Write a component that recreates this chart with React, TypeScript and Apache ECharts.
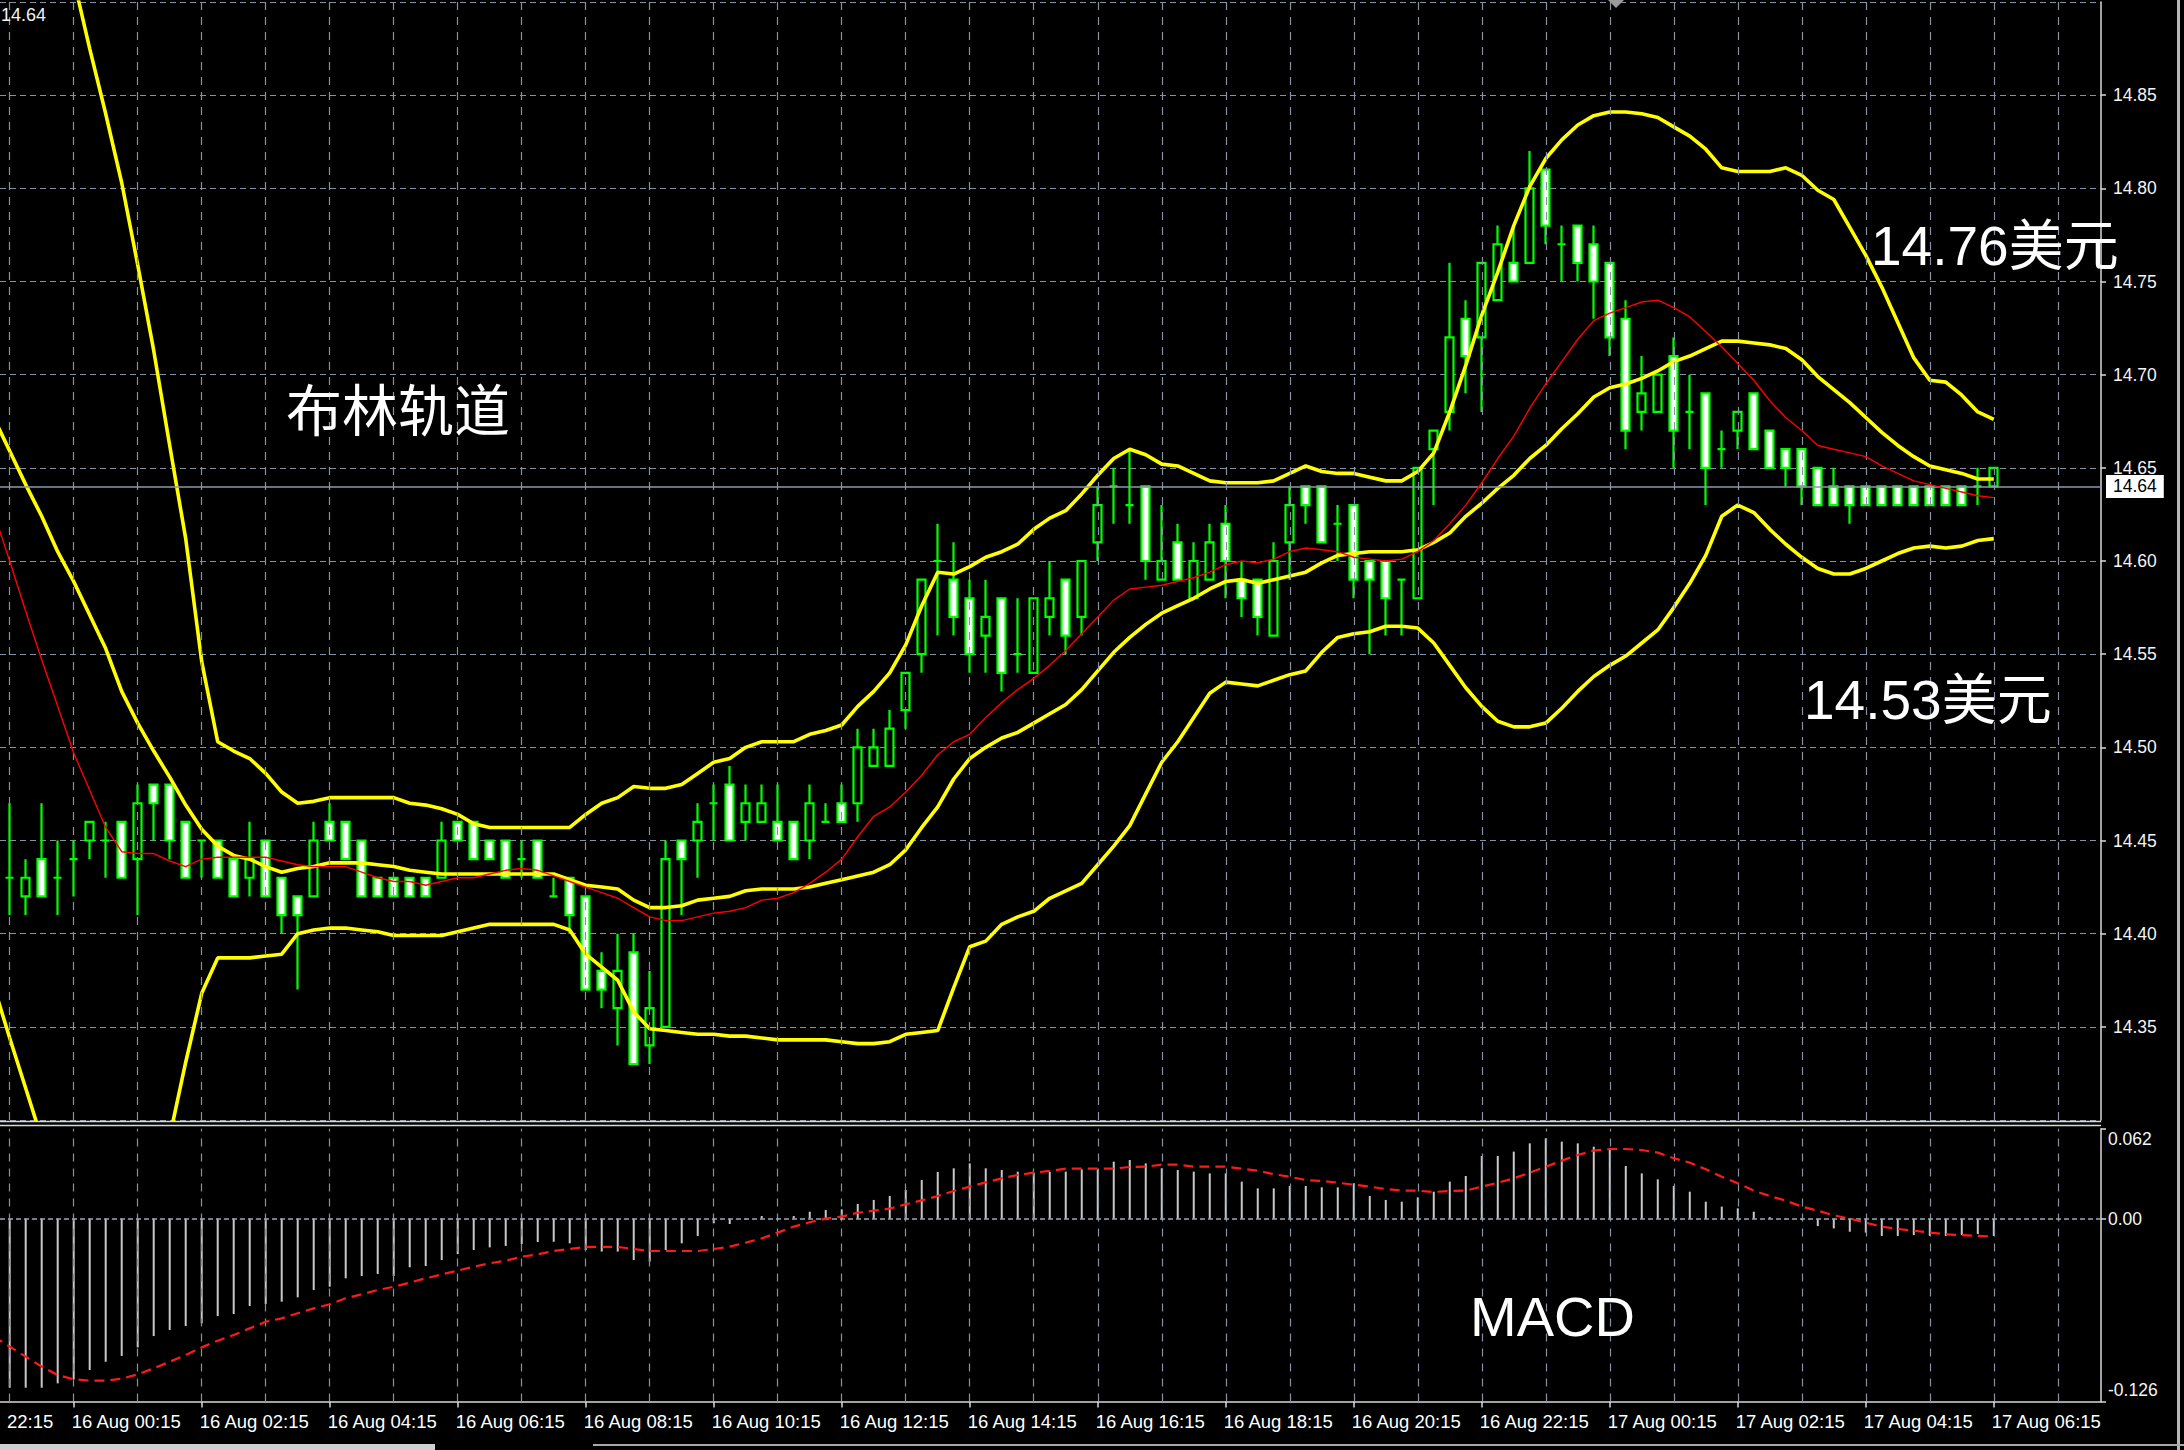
import React, { useEffect, useRef } from 'react';
import * as echarts from 'echarts';

const W = 2184;
const H = 1450;

// Bars are counted in 15-minute steps from 16 Aug 00:15 (k = 0).
const FIRST_CANDLE = -4;
const FIRST_LINE = -5;

// [open, close, low, high] per bar, from k = -4 (15 Aug 23:15) to k = 120 (17 Aug 06:15)
const candles: number[][] = [
  [14.43, 14.43, 14.41, 14.47], [14.42, 14.43, 14.41, 14.44], [14.44, 14.42, 14.42, 14.47], [14.43, 14.43, 14.41, 14.45],
  [14.44, 14.44, 14.42, 14.45], [14.45, 14.46, 14.44, 14.46], [14.45, 14.45, 14.43, 14.46], [14.46, 14.43, 14.43, 14.46],
  [14.44, 14.47, 14.41, 14.48], [14.48, 14.47, 14.45, 14.48], [14.48, 14.45, 14.44, 14.48], [14.46, 14.43, 14.43, 14.46],
  [14.45, 14.45, 14.43, 14.45], [14.45, 14.43, 14.43, 14.45], [14.44, 14.42, 14.42, 14.44], [14.43, 14.44, 14.42, 14.46],
  [14.45, 14.42, 14.42, 14.45], [14.43, 14.41, 14.40, 14.43], [14.42, 14.41, 14.37, 14.42], [14.42, 14.45, 14.42, 14.46],
  [14.46, 14.45, 14.45, 14.47], [14.46, 14.44, 14.44, 14.46], [14.45, 14.42, 14.42, 14.45], [14.43, 14.42, 14.42, 14.43],
  [14.43, 14.42, 14.42, 14.43], [14.43, 14.42, 14.42, 14.43], [14.43, 14.42, 14.42, 14.43], [14.43, 14.45, 14.43, 14.46],
  [14.46, 14.45, 14.45, 14.46], [14.46, 14.44, 14.44, 14.46], [14.45, 14.44, 14.44, 14.45], [14.45, 14.43, 14.43, 14.45],
  [14.44, 14.44, 14.43, 14.45], [14.45, 14.43, 14.43, 14.45], [14.42, 14.42, 14.42, 14.43], [14.43, 14.41, 14.40, 14.43],
  [14.42, 14.37, 14.37, 14.42], [14.38, 14.37, 14.36, 14.39], [14.36, 14.38, 14.34, 14.40], [14.39, 14.33, 14.33, 14.40],
  [14.34, 14.36, 14.33, 14.38], [14.35, 14.44, 14.35, 14.45], [14.45, 14.44, 14.41, 14.45], [14.45, 14.46, 14.43, 14.47],
  [14.47, 14.47, 14.45, 14.48], [14.48, 14.45, 14.45, 14.49], [14.46, 14.47, 14.45, 14.48], [14.46, 14.47, 14.46, 14.48],
  [14.46, 14.45, 14.45, 14.48], [14.46, 14.44, 14.44, 14.46], [14.45, 14.47, 14.44, 14.48], [14.46, 14.46, 14.46, 14.47],
  [14.47, 14.46, 14.46, 14.48], [14.47, 14.50, 14.46, 14.51], [14.49, 14.50, 14.49, 14.51], [14.49, 14.51, 14.49, 14.52],
  [14.52, 14.54, 14.51, 14.54], [14.55, 14.59, 14.54, 14.59], [14.60, 14.60, 14.56, 14.62], [14.59, 14.57, 14.56, 14.61],
  [14.58, 14.55, 14.54, 14.59], [14.56, 14.57, 14.54, 14.59], [14.58, 14.54, 14.53, 14.58], [14.55, 14.55, 14.54, 14.58],
  [14.54, 14.58, 14.54, 14.58], [14.57, 14.58, 14.56, 14.60], [14.59, 14.56, 14.55, 14.59], [14.57, 14.60, 14.56, 14.60],
  [14.61, 14.63, 14.60, 14.64], [14.64, 14.64, 14.62, 14.65], [14.63, 14.63, 14.62, 14.66], [14.64, 14.60, 14.59, 14.64],
  [14.59, 14.60, 14.59, 14.63], [14.61, 14.59, 14.59, 14.62], [14.58, 14.60, 14.58, 14.61], [14.59, 14.61, 14.59, 14.62],
  [14.62, 14.60, 14.58, 14.63], [14.59, 14.58, 14.57, 14.60], [14.59, 14.57, 14.56, 14.59], [14.56, 14.60, 14.56, 14.61],
  [14.61, 14.63, 14.59, 14.64], [14.64, 14.63, 14.62, 14.64], [14.64, 14.61, 14.61, 14.64], [14.62, 14.62, 14.60, 14.63],
  [14.63, 14.59, 14.58, 14.63], [14.60, 14.59, 14.55, 14.60], [14.60, 14.58, 14.56, 14.60], [14.59, 14.59, 14.56, 14.59],
  [14.58, 14.65, 14.58, 14.65], [14.66, 14.67, 14.63, 14.67], [14.68, 14.72, 14.67, 14.76], [14.73, 14.71, 14.69, 14.74],
  [14.72, 14.76, 14.68, 14.76], [14.74, 14.77, 14.74, 14.78], [14.76, 14.75, 14.75, 14.78], [14.76, 14.80, 14.76, 14.82],
  [14.81, 14.78, 14.77, 14.81], [14.77, 14.77, 14.75, 14.78], [14.78, 14.76, 14.75, 14.78], [14.77, 14.75, 14.73, 14.78],
  [14.76, 14.72, 14.71, 14.76], [14.73, 14.67, 14.66, 14.74], [14.68, 14.69, 14.67, 14.71], [14.68, 14.70, 14.68, 14.70],
  [14.71, 14.67, 14.65, 14.72], [14.68, 14.68, 14.66, 14.70], [14.69, 14.65, 14.63, 14.69], [14.66, 14.66, 14.65, 14.67],
  [14.67, 14.68, 14.66, 14.68], [14.69, 14.66, 14.66, 14.69], [14.67, 14.65, 14.65, 14.67], [14.66, 14.65, 14.64, 14.66],
  [14.66, 14.64, 14.63, 14.66], [14.65, 14.63, 14.63, 14.65], [14.64, 14.63, 14.63, 14.65], [14.64, 14.63, 14.62, 14.64],
  [14.64, 14.63, 14.63, 14.64], [14.64, 14.63, 14.63, 14.64], [14.64, 14.63, 14.63, 14.64], [14.64, 14.63, 14.63, 14.64],
  [14.64, 14.63, 14.63, 14.64], [14.64, 14.63, 14.63, 14.64], [14.64, 14.63, 14.63, 14.64], [14.64, 14.64, 14.63, 14.65],
  [14.64, 14.65, 14.64, 14.65],
];

// Bollinger bands and the red moving average, from k = -5 to k = 120
const bbUpper: number[] = [
  14.980, 14.974, 14.965, 14.958, 14.935, 14.912, 14.875, 14.840, 14.803, 14.759, 14.713, 14.662, 14.612, 14.546,
  14.503, 14.498, 14.494, 14.486, 14.476, 14.470, 14.471, 14.473, 14.473, 14.473, 14.473, 14.473, 14.470, 14.469,
  14.467, 14.464, 14.459, 14.457, 14.457, 14.457, 14.457, 14.457, 14.457, 14.464, 14.470, 14.473, 14.479, 14.478,
  14.478, 14.480, 14.486, 14.492, 14.494, 14.500, 14.503, 14.503, 14.503, 14.507, 14.509, 14.512, 14.522, 14.530,
  14.540, 14.555, 14.576, 14.594, 14.593, 14.597, 14.602, 14.605, 14.609, 14.617, 14.623, 14.627, 14.636, 14.646,
  14.655, 14.660, 14.657, 14.652, 14.651, 14.647, 14.643, 14.642, 14.642, 14.642, 14.643, 14.647, 14.651, 14.648,
  14.647, 14.647, 14.645, 14.643, 14.643, 14.648, 14.658, 14.680, 14.705, 14.732, 14.755, 14.780, 14.801, 14.816,
  14.826, 14.834, 14.839, 14.841, 14.841, 14.840, 14.838, 14.833, 14.828, 14.821, 14.811, 14.809, 14.809, 14.809,
  14.811, 14.807, 14.799, 14.794, 14.779, 14.764, 14.747, 14.728, 14.709, 14.697, 14.696, 14.689, 14.680, 14.676,
];
const bbMiddle: number[] = [
  14.677, 14.659, 14.641, 14.624, 14.605, 14.589, 14.571, 14.553, 14.530, 14.513, 14.498, 14.484, 14.469, 14.456,
  14.447, 14.442, 14.440, 14.436, 14.433, 14.435, 14.436, 14.438, 14.438, 14.438, 14.437, 14.436, 14.434, 14.433,
  14.432, 14.432, 14.432, 14.432, 14.432, 14.432, 14.432, 14.432, 14.429, 14.426, 14.425, 14.424, 14.418, 14.414,
  14.414, 14.415, 14.418, 14.419, 14.420, 14.423, 14.424, 14.424, 14.424, 14.425, 14.427, 14.429, 14.431, 14.433,
  14.437, 14.445, 14.457, 14.468, 14.483, 14.494, 14.500, 14.505, 14.508, 14.513, 14.518, 14.523, 14.531, 14.541,
  14.551, 14.559, 14.566, 14.572, 14.576, 14.580, 14.585, 14.589, 14.590, 14.588, 14.590, 14.592, 14.594, 14.599,
  14.603, 14.604, 14.605, 14.605, 14.605, 14.606, 14.610, 14.615, 14.624, 14.631, 14.639, 14.646, 14.655, 14.662,
  14.671, 14.679, 14.688, 14.693, 14.695, 14.698, 14.702, 14.707, 14.710, 14.714, 14.718, 14.718, 14.717, 14.716,
  14.714, 14.708, 14.699, 14.692, 14.685, 14.677, 14.669, 14.662, 14.656, 14.651, 14.649, 14.647, 14.644, 14.644,
];
const bbLower: number[] = [
  14.372, 14.344, 14.317, 14.290, 14.275, 14.266, 14.265, 14.265, 14.257, 14.267, 14.280, 14.291, 14.331, 14.368,
  14.387, 14.387, 14.387, 14.388, 14.389, 14.400, 14.402, 14.403, 14.403, 14.402, 14.401, 14.399, 14.399, 14.399,
  14.399, 14.401, 14.403, 14.405, 14.405, 14.405, 14.405, 14.405, 14.402, 14.389, 14.382, 14.375, 14.358, 14.349,
  14.348, 14.347, 14.346, 14.346, 14.345, 14.345, 14.344, 14.343, 14.343, 14.343, 14.343, 14.342, 14.341, 14.341,
  14.342, 14.346, 14.347, 14.348, 14.371, 14.393, 14.396, 14.405, 14.409, 14.412, 14.419, 14.423, 14.427, 14.437,
  14.447, 14.458, 14.475, 14.492, 14.503, 14.516, 14.529, 14.535, 14.534, 14.533, 14.536, 14.539, 14.541, 14.551,
  14.559, 14.561, 14.562, 14.565, 14.565, 14.564, 14.556, 14.544, 14.532, 14.522, 14.514, 14.511, 14.511, 14.513,
  14.521, 14.530, 14.538, 14.544, 14.549, 14.556, 14.563, 14.575, 14.588, 14.603, 14.624, 14.630, 14.626, 14.617,
  14.609, 14.602, 14.596, 14.593, 14.593, 14.596, 14.600, 14.604, 14.607, 14.608, 14.607, 14.608, 14.611, 14.612,
];
const maRed: number[] = [
  14.626, 14.600, 14.573, 14.547, 14.522, 14.497, 14.477, 14.457, 14.444, 14.443, 14.443, 14.439, 14.436, 14.440,
  14.441, 14.441, 14.441, 14.441, 14.439, 14.437, 14.436, 14.436, 14.436, 14.433, 14.430, 14.428, 14.428, 14.426,
  14.428, 14.430, 14.430, 14.432, 14.434, 14.435, 14.434, 14.431, 14.428, 14.425, 14.422, 14.419, 14.414, 14.409,
  14.407, 14.407, 14.409, 14.411, 14.412, 14.414, 14.418, 14.419, 14.422, 14.427, 14.433, 14.440, 14.452, 14.463,
  14.468, 14.476, 14.485, 14.496, 14.503, 14.507, 14.516, 14.524, 14.531, 14.537, 14.544, 14.552, 14.561, 14.570,
  14.579, 14.585, 14.586, 14.587, 14.589, 14.591, 14.594, 14.598, 14.600, 14.599, 14.601, 14.605, 14.607, 14.606,
  14.605, 14.602, 14.601, 14.600, 14.601, 14.605, 14.611, 14.620, 14.630, 14.642, 14.655, 14.667, 14.682, 14.695,
  14.707, 14.719, 14.729, 14.733, 14.736, 14.739, 14.740, 14.736, 14.731, 14.723, 14.715, 14.706, 14.697, 14.686,
  14.677, 14.670, 14.662, 14.660, 14.658, 14.656, 14.651, 14.647, 14.643, 14.641, 14.639, 14.637, 14.635, 14.634,
];

// MACD histogram from k = -4, signal line from k = -5
const macdHist: number[] = [
  -0.1165, -0.1165, -0.1165, -0.1135, -0.1107, -0.1043, -0.0986, -0.0946, -0.0887, -0.0809, -0.0767, -0.0740, -0.0721,
  -0.0671, -0.0657, -0.0602, -0.0588, -0.0572, -0.0542, -0.0492, -0.0469, -0.0411, -0.0395, -0.0381, -0.0395, -0.0335,
  -0.0326, -0.0285, -0.0244, -0.0216, -0.0198, -0.0188, -0.0175, -0.0161, -0.0159, -0.0170, -0.0216, -0.0227, -0.0227,
  -0.0285, -0.0296, -0.0216, -0.0170, -0.0119, -0.0032, -0.0037, -0.0005, 0.0018, 0.0005, 0.0018, 0.0048, 0.0060,
  0.0064, 0.0101, 0.0129, 0.0156, 0.0198, 0.0266, 0.0322, 0.0347, 0.0381, 0.0347, 0.0335, 0.0324, 0.0317, 0.0322,
  0.0324, 0.0340, 0.0340, 0.0393, 0.0404, 0.0381, 0.0347, 0.0335, 0.0324, 0.0312, 0.0312, 0.0255, 0.0209, 0.0209,
  0.0225, 0.0225, 0.0216, 0.0216, 0.0244, 0.0156, 0.0129, 0.0117, 0.0147, 0.0186, 0.0255, 0.0294, 0.0432, 0.0432,
  0.0462, 0.0519, 0.0554, 0.0531, 0.0519, 0.0496, 0.0478, 0.0363, 0.0312, 0.0271, 0.0225, 0.0186, 0.0117, 0.0083,
  0.0071, 0.0048, 0.0010, -0.0005, -0.0010, -0.0051, -0.0067, -0.0090, -0.0096, -0.0119, -0.0119, -0.0113, -0.0119,
  -0.0119, -0.0113, -0.0106, -0.0119,
];
const macdSignal: number[] = [
  -0.0813, -0.0882, -0.0951, -0.1020, -0.1077, -0.1107, -0.1116, -0.1116, -0.1103, -0.1073, -0.1031, -0.0986, -0.0940,
  -0.0887, -0.0841, -0.0802, -0.0756, -0.0710, -0.0687, -0.0652, -0.0618, -0.0590, -0.0549, -0.0521, -0.0492, -0.0469,
  -0.0441, -0.0411, -0.0384, -0.0358, -0.0331, -0.0308, -0.0289, -0.0262, -0.0246, -0.0223, -0.0209, -0.0195, -0.0195,
  -0.0195, -0.0209, -0.0223, -0.0223, -0.0223, -0.0223, -0.0209, -0.0193, -0.0165, -0.0136, -0.0096, -0.0055, -0.0025,
  0.0000, 0.0014, 0.0041, 0.0055, 0.0069, 0.0099, 0.0126, 0.0156, 0.0191, 0.0221, 0.0250, 0.0278, 0.0301, 0.0317,
  0.0329, 0.0345, 0.0345, 0.0345, 0.0345, 0.0356, 0.0358, 0.0372, 0.0372, 0.0358, 0.0358, 0.0358, 0.0345, 0.0331,
  0.0306, 0.0289, 0.0266, 0.0260, 0.0248, 0.0234, 0.0221, 0.0204, 0.0193, 0.0193, 0.0184, 0.0191, 0.0193, 0.0221,
  0.0248, 0.0278, 0.0317, 0.0358, 0.0400, 0.0439, 0.0469, 0.0480, 0.0480, 0.0473, 0.0455, 0.0416, 0.0386, 0.0340,
  0.0289, 0.0244, 0.0193, 0.0156, 0.0124, 0.0083, 0.0055, 0.0023, 0.0000, -0.0028, -0.0055, -0.0071, -0.0083, -0.0096,
  -0.0108, -0.0113, -0.0119, -0.0124,
];

// Time labels every 8 bars, k = 0 .. 120; the 22:15 label before them is cut by the left edge
const LEAD_TIME_LABEL = '22:15';
const timeLabels: string[] = [
  '16 Aug 00:15', '16 Aug 02:15', '16 Aug 04:15', '16 Aug 06:15', '16 Aug 08:15',
  '16 Aug 10:15', '16 Aug 12:15', '16 Aug 14:15', '16 Aug 16:15', '16 Aug 18:15', '16 Aug 20:15',
  '16 Aug 22:15', '17 Aug 00:15', '17 Aug 02:15', '17 Aug 04:15', '17 Aug 06:15',
];
const LABEL_STEP = 8;
const labelBars = timeLabels.map((_, i) => i * LABEL_STEP);
// hourly vertical grid lines
const hourBars: number[] = [];
for (let k = -4; k <= 124; k += 4) hourBars.push(k);

const PRICE_MIN = 14.3;
const PRICE_MAX = 14.9;
const PRICE_STEP = 0.05;
const MACD_MIN = -0.126;
const MACD_MAX = 0.062;
const LAST_PRICE = 14.64;

// visible bar range: left edge .. right price-scale edge
const X_MIN = -4.606;
const X_MAX = 126.7;

const GRID_COLOR = '#8393a3';
const FRAME_COLOR = '#d8d8d8';
const AXIS_FONT = '"Liberation Sans", Arial, sans-serif';
const NOTE_FONT = '"Liberation Sans", "Noto Sans CJK SC", sans-serif';

const notes = [
  { text: '布林轨道', x: 286, y: 411, size: 56 },
  { text: '14.76美元', x: 1871, y: 246, size: 55 },
  { text: '14.53美元', x: 1804, y: 700, size: 55 },
  { text: 'MACD', x: 1470, y: 1316, size: 56 },
];

const pts = (arr: number[], start: number) => arr.map((v, i) => [start + i, v]);

function buildOption(): echarts.EChartsOption {
  const hiddenX = (gridIndex: number, position: 'top' | 'bottom') => ({
    gridIndex, type: 'value', min: X_MIN, max: X_MAX, position,
    axisLine: { show: false, onZero: false }, axisTick: { show: false }, axisLabel: { show: false }, splitLine: { show: false },
  });
  const hourGrid = (xAxisIndex: number, yAxisIndex: number) => ({
    name: 'hours' + xAxisIndex,
    type: 'line',
    xAxisIndex,
    yAxisIndex,
    data: [],
    z: 0,
    silent: true,
    markLine: {
      silent: true,
      symbol: 'none',
      animation: false,
      label: { show: false },
      lineStyle: { color: GRID_COLOR, width: 1.2, type: [8, 7] },
      data: hourBars.map((k) => ({ xAxis: k })),
    },
  });
  const bandLine = (name: string, data: number[]) => ({
    name,
    type: 'line',
    xAxisIndex: 0,
    yAxisIndex: 0,
    data: pts(data, FIRST_LINE),
    showSymbol: false,
    symbol: 'none',
    lineStyle: { color: '#ffff00', width: 3.6 },
    z: 4,
  });

  return {
    animation: false,
    backgroundColor: '#000000',
    grid: [
      { left: 0, right: 83, top: 2, height: 1118 },
      { left: 0, right: 83, top: 1128.7, height: 272.8 },
    ],
    xAxis: [
      hiddenX(0, 'bottom'),
      hiddenX(1, 'top'),
      {
        gridIndex: 1, type: 'value', min: X_MIN, max: X_MAX, position: 'bottom',
        axisLine: { show: true, onZero: false, lineStyle: { color: FRAME_COLOR, width: 1.5 } },
        axisTick: { show: true, length: 6, customValues: labelBars, lineStyle: { color: FRAME_COLOR, width: 1.5 } },
        splitLine: { show: false },
        axisLabel: {
          show: true,
          customValues: labelBars,
          align: 'left',
          margin: 10,
          padding: [0, 0, 0, -2],
          color: '#ffffff',
          fontSize: 18.5,
          fontFamily: AXIS_FONT,
          formatter: (v: number) => {
            const i = Math.round(v / LABEL_STEP);
            return timeLabels[i] ?? '';
          },
        },
      },
    ],
    yAxis: [
      {
        gridIndex: 0, type: 'value', position: 'right', min: PRICE_MIN, max: PRICE_MAX, interval: PRICE_STEP,
        axisLine: { show: true, onZero: false, lineStyle: { color: FRAME_COLOR, width: 1.5 } },
        axisTick: { show: true, length: 5, lineStyle: { color: FRAME_COLOR, width: 1.5 } },
        axisLabel: {
          color: '#f4f4f4', fontSize: 17.5, fontFamily: AXIS_FONT, margin: 12,
          showMinLabel: false, showMaxLabel: false,
          formatter: (v: number) => v.toFixed(2),
        },
        splitLine: { show: true, lineStyle: { color: GRID_COLOR, width: 1.2, type: [6, 4] } },
      },
      {
        gridIndex: 1, type: 'value', position: 'right', min: MACD_MIN, max: MACD_MAX, interval: -MACD_MIN,
        axisLine: { show: true, onZero: false, lineStyle: { color: FRAME_COLOR, width: 1.5 } },
        axisTick: { show: true, length: 5, lineStyle: { color: FRAME_COLOR, width: 1.5 } },
        axisLabel: {
          color: '#f4f4f4', fontSize: 17.5, fontFamily: AXIS_FONT, margin: 7,
          showMinLabel: true, showMaxLabel: true,
          formatter: (v: number) => {
            if (Math.abs(v - MACD_MAX) < 1e-6) return '{mx|' + MACD_MAX.toFixed(3) + '}';
            if (Math.abs(v - MACD_MIN) < 1e-6) return '{mn|' + MACD_MIN.toFixed(3) + '}';
            return v.toFixed(2);
          },
          rich: {
            mx: { color: '#f4f4f4', fontSize: 17.5, fontFamily: AXIS_FONT, padding: [20, 0, 0, 0] },
            mn: { color: '#f4f4f4', fontSize: 17.5, fontFamily: AXIS_FONT, padding: [0, 0, 24, 0] },
          },
        },
        splitLine: { show: false },
      },
    ],
    series: [
      hourGrid(0, 0),
      hourGrid(1, 1),
      {
        name: 'price',
        type: 'candlestick',
        xAxisIndex: 0,
        yAxisIndex: 0,
        dimensions: ['bar', 'open', 'close', 'low', 'high'],
        encode: { x: 0, y: [1, 2, 3, 4] },
        data: candles.map((c, i) => [FIRST_CANDLE + i, c[0], c[1], c[2], c[3]]),
        barWidth: 8.6,
        itemStyle: {
          color: '#000000',
          color0: '#ffffff',
          borderColor: '#00ff00',
          borderColor0: '#00ff00',
          borderColorDoji: '#00ff00',
          borderWidth: 2.2,
        },
        z: 2,
        markLine: {
          silent: true,
          symbol: 'none',
          data: [{ yAxis: LAST_PRICE }],
          lineStyle: { color: '#8a9aaa', width: 1.5, type: 'solid' },
          label: {
            show: true,
            position: 'end',
            distance: 5,
            formatter: () => LAST_PRICE.toFixed(2),
            color: '#000000',
            backgroundColor: '#ffffff',
            fontSize: 17.5,
            fontFamily: AXIS_FONT,
            padding: [3, 7, 2, 7],
          },
        },
      },
      bandLine('upper', bbUpper),
      bandLine('middle', bbMiddle),
      bandLine('lower', bbLower),
      {
        name: 'ma',
        type: 'line',
        xAxisIndex: 0,
        yAxisIndex: 0,
        data: pts(maRed, FIRST_LINE),
        showSymbol: false,
        symbol: 'none',
        lineStyle: { color: '#ff0000', width: 1.4 },
        z: 5,
      },
      {
        name: 'macd',
        type: 'bar',
        xAxisIndex: 1,
        yAxisIndex: 1,
        data: pts(macdHist, FIRST_CANDLE),
        barWidth: 2,
        itemStyle: { color: '#c8c8c8' },
        z: 3,
        markLine: {
          silent: true,
          symbol: 'none',
          data: [{ yAxis: 0 }],
          label: { show: false },
          lineStyle: { color: '#9aa8b6', width: 1.5, type: [5, 3] },
        },
      },
      {
        name: 'signal',
        type: 'line',
        xAxisIndex: 1,
        yAxisIndex: 1,
        data: pts(macdSignal, FIRST_LINE),
        showSymbol: false,
        symbol: 'none',
        lineStyle: { color: '#ff1a1a', width: 2.2, type: [10, 6] },
        z: 5,
      },
    ],
    graphic: {
      elements: [
        { type: 'line', z: 50, shape: { x1: 0, y1: 1121.5, x2: 2101, y2: 1121.5 }, style: { stroke: FRAME_COLOR, lineWidth: 1.5 } },
        { type: 'line', z: 50, shape: { x1: 0, y1: 1125.5, x2: 2101, y2: 1125.5 }, style: { stroke: FRAME_COLOR, lineWidth: 1.5 } },
        { type: 'rect', z: 50, shape: { x: 2177, y: 0, width: 3, height: 1450 }, style: { fill: '#b8b8b8' } },
        { type: 'rect', z: 50, shape: { x: 0, y: 1444, width: 435, height: 6 }, style: { fill: '#d0d0d0' } },
        { type: 'rect', z: 50, shape: { x: 593, y: 1444, width: 1591, height: 2 }, style: { fill: '#a8a8a8' } },
        { type: 'polygon', z: 50, shape: { points: [[1608, 0], [1624, 0], [1616, 8]] }, style: { fill: '#9a9a9a' } },
        {
          type: 'text', z: 50, x: 1, y: 15,
          style: { text: LAST_PRICE.toFixed(2), fill: '#f2f2f2', font: '18px ' + AXIS_FONT, align: 'left', verticalAlign: 'middle' },
        },
        {
          type: 'text', z: 50, x: 7, y: 1421,
          style: { text: LEAD_TIME_LABEL, fill: '#ffffff', font: '18.5px ' + AXIS_FONT, align: 'left', verticalAlign: 'middle' },
        },
        ...notes.map((n) => ({
          type: 'text' as const,
          z: 60,
          x: n.x,
          y: n.y,
          style: {
            text: n.text,
            fill: '#ffffff',
            font: `${n.size}px ${NOTE_FONT}`,
            align: 'left' as const,
            verticalAlign: 'middle' as const,
          },
        })),
      ],
    },
  } as echarts.EChartsOption;
}

export default function App() {
  const ref = useRef<HTMLDivElement>(null);
  useEffect(() => {
    document.body.style.margin = '0';
    document.body.style.background = '#000000';
    const chart = echarts.init(ref.current as HTMLDivElement, undefined, { renderer: 'svg', width: W, height: H });
    chart.setOption(buildOption());
    return () => chart.dispose();
  }, []);
  return (
    <div
      ref={ref}
      style={{ position: 'absolute', left: 0, top: 0, width: W, height: H, background: '#000000' }}
    />
  );
}
